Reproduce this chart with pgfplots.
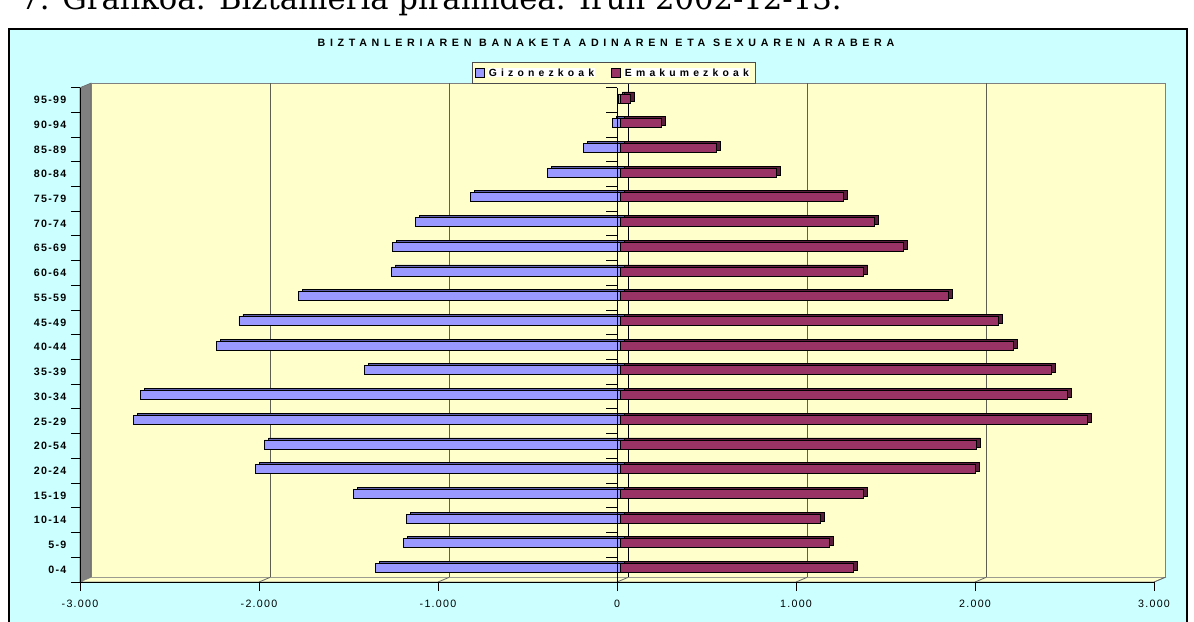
\documentclass[border=0pt]{standalone}
\usepackage{pgfplots}
\pgfplotsset{compat=1.18}
\usepackage{pgfplotstable}
\usepackage{fontspec}
\setmainfont{Liberation Sans}
\newfontfamily\capfont{DejaVu Serif}
\newfontfamily\spacedfont[LetterSpace=12]{Liberation Sans}
\newfontfamily\titlefont[LetterSpace=44]{Liberation Sans}
\newfontfamily\legfont[LetterSpace=40]{Liberation Sans}
\definecolor{bgcyan}{HTML}{CCFFFF}
\definecolor{wall}{HTML}{FFFFCC}
\definecolor{male}{HTML}{9999FF}
\definecolor{maletop}{HTML}{5E5EA8}
\definecolor{female}{HTML}{993366}
\definecolor{femaletop}{HTML}{5A1E3C}
\definecolor{sidewall}{HTML}{808080}
\definecolor{gridc}{HTML}{5F5F50}
\newcommand\wb[1]{{\setlength{\fboxsep}{0.8pt}\colorbox{white}{#1}}}

\pgfplotsset{sqlegend/.style={legend image code/.code={\draw[##1, xshift=-2.8pt, yshift=-1.2pt] (0pt,-3.5pt) rectangle (7pt,3.5pt);}}}

\pgfplotstableread{
k male female
0 -1369 1297
1 -1213 1166
2 -1195 1118
3 -1494 1357
4 -2040 1980
5 -1990 1986
6 -2723 2607
7 -2683 2493
8 -1430 2407
9 -2261 2192
10 -2133 2112
11 -1803 1832
12 -1281 1357
13 -1275 1579
14 -1145 1415
15 -839 1243
16 -408 870
17 -207 533
18 -47 226
19 -12 54
}\pyramid

\begin{document}
\begin{tikzpicture}
\useasboundingbox (0pt,0pt) rectangle (895.5pt,465.75pt);
\begin{scope}[x=0.75pt,y=0.75pt]
\node[anchor=base west, inner sep=0pt, font=\capfont\fontsize{23}{27}\selectfont] at (20,611) {7. Grafikoa: Biztanleria piramidea: Irun 2002-12-13.};
\draw[line width=1.5pt, fill=bgcyan] (9,-30) rectangle (1187,592);
\node[font=\titlefont\bfseries\fontsize{8}{9}\selectfont] at (606,578) {BIZTANLERIAREN BANAKETA ADINAREN ETA SEXUAREN ARABERA};
\end{scope}
\begin{axis}[
  at={(462.75pt,38.51pt)}, anchor=origin, scale only axis,
  width=805.5pt, height=370.76pt,
  xmin=-3000, xmax=3000, ymin=-0.5, ymax=19.5,
  clip=false, axis on top,
  axis x line*=bottom, axis y line*=left,
  axis line style={black, line width=0.75pt},
  tick align=outside, major tick length=6.75pt,
  tick style={black, line width=0.75pt},
  xtick={-3000,-2000,-1000,0,1000,2000,3000},
  xticklabels={-3.000,-2.000,-1.000,0,1.000,2.000,3.000},
  xticklabel style={font=\spacedfont\fontsize{8}{9}\selectfont, yshift=-3pt},
  ytick={-0.5,0.5,...,19.5},
  y tick label as interval,
  yticklabels={0-4,5-9,10-14,15-19,20-24,20-54,25-29,30-34,35-39,40-44,45-49,55-59,60-64,65-69,70-74,75-79,80-84,85-89,90-94,95-99},
  yticklabel style={font=\spacedfont\bfseries\fontsize{8}{9}\selectfont},
  legend style={at={(0.497,1.03)}, anchor=center, fill=wall, draw=black!70,
    legend columns=2, font=\legfont\bfseries\fontsize{7.8}{9}\selectfont,
    /tikz/every even column/.append style={column sep=10pt}, inner sep=2pt},
]
% side wall
\filldraw[fill=sidewall, draw=black!60] (axis cs:-3000,-0.5) -- ([shift={(8.25pt,3.45pt)}]axis cs:-3000,-0.5) -- ([shift={(8.25pt,3.45pt)}]axis cs:-3000,19.5) -- (axis cs:-3000,19.5) -- cycle;
% back wall
\filldraw[fill=wall, draw=black!50] ([shift={(8.25pt,3.45pt)}]axis cs:-3000,-0.5) rectangle ([shift={(8.25pt,3.45pt)}]axis cs:3000,19.5);
% floor
\filldraw[fill=wall, draw=black!50] (axis cs:-3000,-0.5) -- (axis cs:3000,-0.5) -- ([shift={(8.25pt,3.45pt)}]axis cs:3000,-0.5) -- ([shift={(8.25pt,3.45pt)}]axis cs:-3000,-0.5) -- cycle;
\pgfplotsinvokeforeach{-2000,-1000,1000,2000}{
  \draw[gridc, line width=0.75pt] ([shift={(8.25pt,3.45pt)}]axis cs:#1,-0.5) -- ([shift={(8.25pt,3.45pt)}]axis cs:#1,19.5);
}
\pgfplotsinvokeforeach{-2000,-1000,0,1000,2000,3000}{
  \draw[black!60, line width=0.6pt] (axis cs:#1,-0.5) -- ([shift={(8.25pt,3.45pt)}]axis cs:#1,-0.5);
}
\draw[black, line width=0.75pt] ([shift={(8.25pt,3.45pt)}]axis cs:0,-0.5) -- ([shift={(8.25pt,3.45pt)}]axis cs:0,19.5);
% bars: depth faces
\addplot[xbar, bar width=6.75pt, bar shift=0pt, fill=maletop, draw=black, line width=0.6pt, xshift=5.8pt, yshift=2.7pt, forget plot] table[x=male,y=k]{\pyramid};
\addplot[xbar, bar width=6.75pt, bar shift=0pt, fill=femaletop, draw=black, line width=0.6pt, xshift=5.8pt, yshift=2.7pt, forget plot] table[x=female,y=k]{\pyramid};
% bars: front faces
\addplot[xbar, bar width=6.75pt, bar shift=0pt, fill=male, draw=black, line width=0.6pt, xshift=2.8pt, yshift=1.2pt, sqlegend] table[x=male,y=k]{\pyramid};
\addlegendentry{\wb{Gizonezkoak}}
\addplot[xbar, bar width=6.75pt, bar shift=0pt, fill=female, draw=black, line width=0.6pt, xshift=2.8pt, yshift=1.2pt, sqlegend] table[x=female,y=k]{\pyramid};
\addlegendentry{\wb{Emakumezkoak}}
% front zero line with ticks
\draw[black, line width=0.75pt] (axis cs:0,-0.5) -- (axis cs:0,19.5);
\pgfplotsinvokeforeach{-0.5,0.5,...,19.5}{
  \draw[black, line width=0.75pt] (axis cs:0,#1) -- ++(-8pt,0pt);
}
\end{axis}
\end{tikzpicture}
\end{document}
